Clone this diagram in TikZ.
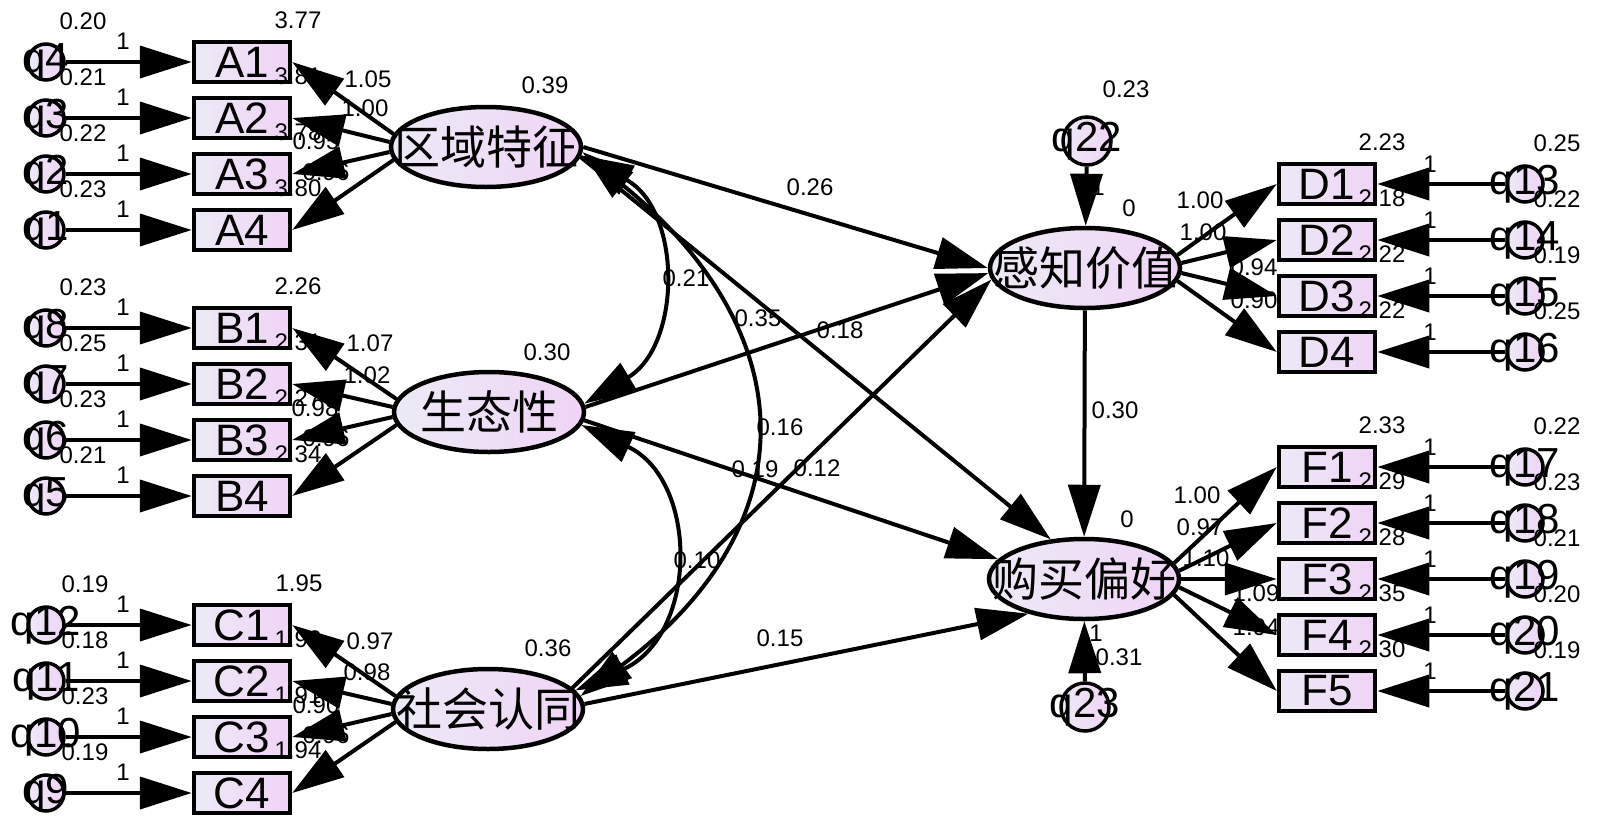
\documentclass[tikz,border=0pt]{standalone}
\usepackage{fontspec}
\setmainfont{Liberation Sans}
\newfontfamily\cjk{Noto Sans CJK SC}
\usetikzlibrary{shapes.geometric,arrows.meta}
\definecolor{fillL}{RGB}{236,234,246}
\definecolor{fillR}{RGB}{240,212,246}
\begin{document}
\begin{tikzpicture}[x=1pt,y=-1pt,
  ln/.style={line width=4pt},
  hd/.style={-{Triangle[length=52pt,width=32pt]}},
  dh/.style={{Triangle[length=52pt,width=32pt]}-{Triangle[length=52pt,width=32pt]}},
  obs/.style={draw,line width=4.5pt,minimum width=96pt,minimum height=40pt,inner sep=0pt,left color=fillL,right color=fillR,font=\fontsize{44}{44}\selectfont},
  lat/.style={ellipse,draw,line width=4.5pt,minimum width=190pt,minimum height=80pt,inner sep=0pt,left color=fillL,right color=fillR},
  lattxt/.style={font=\cjk\fontsize{46}{46}\selectfont,inner sep=0pt},
  err/.style={circle,draw,line width=3.5pt,minimum size=36pt,inner sep=0pt,left color=fillL,right color=fillR},
  bigerr/.style={err,minimum size=48pt},
  errtxt/.style={font=\fontsize{42}{42}\selectfont,inner sep=0pt},
  num/.style={font=\fontsize{24}{24}\selectfont,inner sep=0pt},
]
\useasboundingbox (0,0) rectangle (1600,825);
\fill[white] (0,0) rectangle (1600,825);

% ---------- latent variables ----------
\node[lat,label={[lattxt]center:区域特征}] (zk) at (486,147) {};
\node[lat,label={[lattxt]center:生态性}] (st) at (489,412) {};
\node[lat,label={[lattxt]center:社会认同}] (sh) at (488,709) {};
\node[lat,label={[lattxt]center:感知价值}] (gz) at (1085,268) {};
\node[lat,label={[lattxt]center:购买偏好}] (gm) at (1084,579) {};

% ---------- observed variables ----------
\node[obs] (A1) at (242,62) {A1};
\node[obs] (A2) at (242,118) {A2};
\node[obs] (A3) at (242,174) {A3};
\node[obs] (A4) at (242,230) {A4};
\node[obs] (B1) at (242,328) {B1};
\node[obs] (B2) at (242,384) {B2};
\node[obs] (B3) at (242,440) {B3};
\node[obs] (B4) at (242,496) {B4};
\node[obs] (C1) at (242,625) {C1};
\node[obs] (C2) at (242,681) {C2};
\node[obs] (C3) at (242,737) {C3};
\node[obs] (C4) at (242,793) {C4};
\node[obs] (D1) at (1327,184) {D1};
\node[obs] (D2) at (1327,240) {D2};
\node[obs] (D3) at (1327,296) {D3};
\node[obs] (D4) at (1327,352) {D4};
\node[obs] (F1) at (1327,467) {F1};
\node[obs] (F2) at (1327,523) {F2};
\node[obs] (F3) at (1327,579) {F3};
\node[obs] (F4) at (1327,635) {F4};
\node[obs] (F5) at (1327,691) {F5};

% ---------- error terms ----------
\node[err,label={[errtxt]center:q4}] (q4) at (46,62) {};
\node[err,label={[errtxt]center:q3}] (q3) at (46,118) {};
\node[err,label={[errtxt]center:q2}] (q2) at (46,174) {};
\node[err,label={[errtxt]center:q1}] (q1) at (46,230) {};
\node[err,label={[errtxt]center:q8}] (q8) at (46,328) {};
\node[err,label={[errtxt]center:q7}] (q7) at (46,384) {};
\node[err,label={[errtxt]center:q6}] (q6) at (46,440) {};
\node[err,label={[errtxt]center:q5}] (q5) at (46,496) {};
\node[err,label={[errtxt]center:q12}] (q12) at (46,625) {};
\node[err,label={[errtxt]center:q11}] (q11) at (46,681) {};
\node[err,label={[errtxt]center:q10}] (q10) at (46,737) {};
\node[err,label={[errtxt]center:q9}] (q9) at (46,793) {};
\node[err,label={[errtxt]center:q13}] (q13) at (1525,184) {};
\node[err,label={[errtxt]center:q14}] (q14) at (1525,240) {};
\node[err,label={[errtxt]center:q15}] (q15) at (1525,296) {};
\node[err,label={[errtxt]center:q16}] (q16) at (1525,352) {};
\node[err,label={[errtxt]center:q17}] (q17) at (1525,467) {};
\node[err,label={[errtxt]center:q18}] (q18) at (1525,523) {};
\node[err,label={[errtxt]center:q19}] (q19) at (1525,579) {};
\node[err,label={[errtxt]center:q20}] (q20) at (1525,635) {};
\node[err,label={[errtxt]center:q21}] (q21) at (1525,691) {};
\node[bigerr,label={[errtxt]center:q22}] (q22) at (1087,141) {};
\node[bigerr,label={[errtxt]center:q23}] (q23) at (1085,707) {};

% ---------- numeric labels: group A ----------
\node[num] (vA1) at (83,21) {0.20};
\node[num] (vA2) at (83,77) {0.21};
\node[num] (vA3) at (83,133) {0.22};
\node[num] (vA4) at (83,189) {0.23};
\node[num] (oA1) at (123,41) {1};
\node[num] (oA2) at (123,97) {1};
\node[num] (oA3) at (123,153) {1};
\node[num] (oA4) at (123,209) {1};
\node[num] (iA1) at (298,20) {3.77};
\node[num] (iA2) at (298,76) {3.81};
\node[num] (iA3) at (298,132) {3.78};
\node[num] (iA4) at (298,188) {3.80};
\node[num] (lA1) at (368,79) {1.05};
\node[num] (lA2) at (365,108) {1.00};
\node[num] (lA3) at (316,141) {0.95};
\node[num] (lA4) at (326,172) {0.96};
% group B
\node[num] (vB1) at (83,287) {0.23};
\node[num] (vB2) at (83,343) {0.25};
\node[num] (vB3) at (83,399) {0.23};
\node[num] (vB4) at (83,455) {0.21};
\node[num] (oB1) at (123,307) {1};
\node[num] (oB2) at (123,363) {1};
\node[num] (oB3) at (123,419) {1};
\node[num] (oB4) at (123,475) {1};
\node[num] (iB1) at (298,286) {2.26};
\node[num] (iB2) at (298,342) {2.31};
\node[num] (iB3) at (298,398) {2.27};
\node[num] (iB4) at (298,454) {2.34};
\node[num] (lB1) at (370,343) {1.07};
\node[num] (lB2) at (367,375) {1.02};
\node[num] (lB3) at (315,408) {0.98};
\node[num] (lB4) at (326,438) {0.96};
% group C
\node[num] (vC1) at (85,584) {0.19};
\node[num] (vC2) at (85,640) {0.18};
\node[num] (vC3) at (85,696) {0.23};
\node[num] (vC4) at (85,752) {0.19};
\node[num] (oC1) at (123,604) {1};
\node[num] (oC2) at (123,660) {1};
\node[num] (oC3) at (123,716) {1};
\node[num] (oC4) at (123,772) {1};
\node[num] (iC1) at (299,583) {1.95};
\node[num] (iC2) at (298,639) {1.92};
\node[num] (iC3) at (298,695) {1.91};
\node[num] (iC4) at (298,750) {1.94};
\node[num] (lC1) at (370,641) {0.97};
\node[num] (lC2) at (367,672) {0.98};
\node[num] (lC3) at (316,705) {0.90};
\node[num] (lC4) at (326,735) {0.96};
% latent variances
\node[num] (vzk) at (545,85) {0.39};
\node[num] (vst) at (547,352) {0.30};
\node[num] (vsh) at (548,648) {0.36};
% group D
\node[num] (iD1) at (1382,142) {2.23};
\node[num] (iD2) at (1382,198) {2.18};
\node[num] (iD3) at (1382,254) {2.22};
\node[num] (iD4) at (1382,310) {2.22};
\node[num] (vD1) at (1557,143) {0.25};
\node[num] (vD2) at (1557,199) {0.22};
\node[num] (vD3) at (1557,255) {0.19};
\node[num] (vD4) at (1557,311) {0.25};
\node[num] (oD1) at (1430,164) {1};
\node[num] (oD2) at (1430,220) {1};
\node[num] (oD3) at (1430,276) {1};
\node[num] (oD4) at (1430,332) {1};
\node[num] (lD1) at (1200,200) {1.00};
\node[num] (lD2) at (1203,232) {1.00};
\node[num] (lD3) at (1254,267) {0.94};
\node[num] (lD4) at (1254,300) {0.90};
% group F
\node[num] (iF1) at (1382,425) {2.33};
\node[num] (iF2) at (1382,481) {2.29};
\node[num] (iF3) at (1382,537) {2.28};
\node[num] (iF4) at (1382,593) {2.35};
\node[num] (iF5) at (1382,649) {2.30};
\node[num] (vF1) at (1557,426) {0.22};
\node[num] (vF2) at (1557,482) {0.23};
\node[num] (vF3) at (1557,538) {0.21};
\node[num] (vF4) at (1557,594) {0.20};
\node[num] (vF5) at (1557,650) {0.19};
\node[num] (oF1) at (1430,447) {1};
\node[num] (oF2) at (1430,503) {1};
\node[num] (oF3) at (1430,559) {1};
\node[num] (oF4) at (1430,615) {1};
\node[num] (oF5) at (1430,671) {1};
\node[num] (lF1) at (1197,495) {1.00};
\node[num] (lF2) at (1200,527) {0.97};
\node[num] (lF3) at (1206,558) {1.10};
\node[num] (lF4) at (1256,593) {1.09};
\node[num] (lF5) at (1256,627) {1.04};
% residuals and structural paths
\node[num] (v22) at (1126,89) {0.23};
\node[num] (o22) at (1098,187) {1};
\node[num] (m1) at (1129,208) {0};
\node[num] (p30) at (1115,410) {0.30};
\node[num] (m2) at (1127,519) {0};
\node[num] (o23) at (1096,633) {1};
\node[num] (v23) at (1119,657) {0.31};
\node[num] (p26) at (810,187) {0.26};
\node[num] (c21) at (686,278) {0.21};
\node[num] (p35) at (758,318) {0.35};
\node[num] (p18) at (840,330) {0.18};
\node[num] (c16) at (780,427) {0.16};
\node[num] (p19) at (755,469) {0.19};
\node[num] (p12) at (817,468) {0.12};
\node[num] (c10) at (697,560) {0.10};
\node[num] (p15) at (780,638) {0.15};

% ---------- error arrows ----------
\foreach \e/\b in {q4/A1,q3/A2,q2/A3,q1/A4,q8/B1,q7/B2,q6/B3,q5/B4,q12/C1,q11/C2,q10/C3,q9/C4,
  q13/D1,q14/D2,q15/D3,q16/D4,q17/F1,q18/F2,q19/F3,q20/F4,q21/F5}
  \draw[ln,hd] (\e) -- (\b);
\draw[ln,hd] (q22) -- (gz);
\draw[ln,hd] (q23) -- (gm);

% ---------- loadings ----------
\draw[ln,hd] (zk.172) -- (A1.east);
\draw[ln,hd] (zk.177) -- (A2.east);
\draw[ln,hd] (zk.183) -- (A3.east);
\draw[ln,hd] (zk.188) -- (A4.east);
\draw[ln,hd] (st.172) -- (B1.east);
\draw[ln,hd] (st.177) -- (B2.east);
\draw[ln,hd] (st.183) -- (B3.east);
\draw[ln,hd] (st.188) -- (B4.east);
\draw[ln,hd] (sh.172) -- (C1.east);
\draw[ln,hd] (sh.177) -- (C2.east);
\draw[ln,hd] (sh.183) -- (C3.east);
\draw[ln,hd] (sh.188) -- (C4.east);
\draw[ln,hd] (gz.8) -- (D1.west);
\draw[ln,hd] (gz.3) -- (D2.west);
\draw[ln,hd] (gz.-3) -- (D3.west);
\draw[ln,hd] (gz.-8) -- (D4.west);
\draw[ln,hd] (gm.10) -- (F1.west);
\draw[ln,hd] (gm.5) -- (F2.west);
\draw[ln,hd] (gm.0) -- (F3.west);
\draw[ln,hd] (gm.-5) -- (F4.west);
\draw[ln,hd] (gm.-10) -- (F5.west);

% ---------- structural paths ----------
\draw[ln,hd] (zk.east) -- (gz.west);
\draw[ln,hd] (zk.-6) -- (gm.130);
\draw[ln,hd] (st.3) -- (gz.183);
\draw[ln,hd] (st.-5) -- (gm.167);
\draw[ln,hd] (sh.14) -- (gz.187);
\draw[ln,hd] (sh.3) -- (gm.212);
\draw[ln,hd] (gz) -- (gm);

% ---------- covariances ----------
\draw[ln,dh] (zk.-5) .. controls (682,210) and (682,345) .. (st.5);
\draw[ln,dh] (zk.-3) .. controls (807,336) and (807,527) .. (sh.8);
\draw[ln,dh] (st.-8) .. controls (699,480) and (699,636) .. (sh.12);
\end{tikzpicture}
\end{document}
